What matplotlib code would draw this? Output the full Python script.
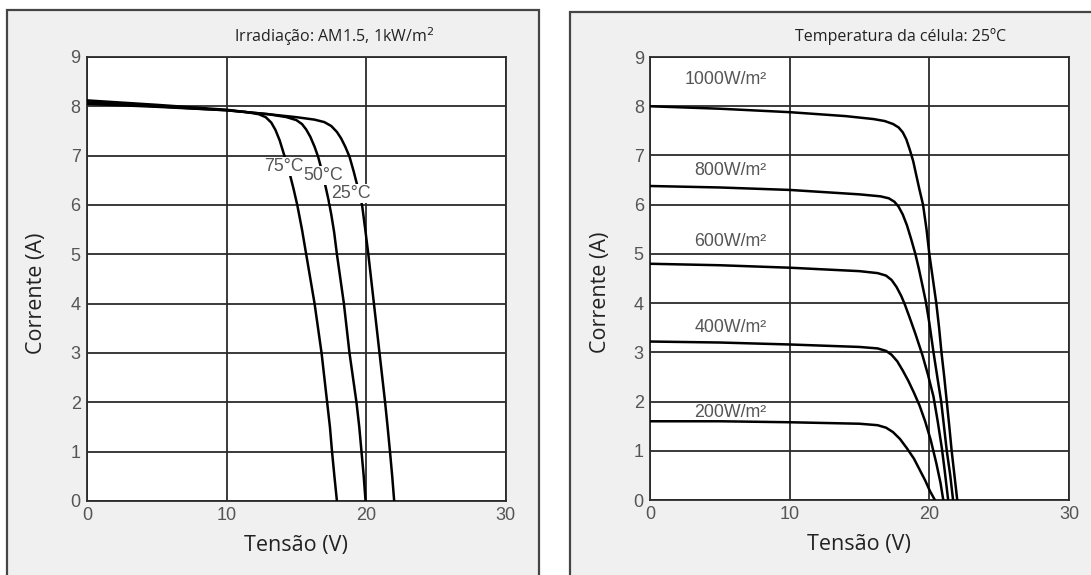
import matplotlib
matplotlib.use("Agg")
import matplotlib.pyplot as plt
from matplotlib.patches import Rectangle

# ---- Left panel: I-V curves at different cell temperatures (AM1.5, 1 kW/m²) ----
temp_labels = ["75°C", "50°C", "25°C"]
v_75 = [0, 5, 10, 11.5, 12.3, 12.8, 13.2, 13.5, 13.8, 14.05, 14.3, 14.55, 14.8, 15.06,
        15.4, 15.7, 16.0, 16.3, 16.55, 16.8, 17.0, 17.2, 17.4, 17.55, 17.72, 17.9]
i_75 = [8.12, 8.03, 7.93, 7.88, 7.84, 7.78, 7.67, 7.52, 7.31, 7.08, 6.85, 6.60, 6.32, 6.00,
        5.50, 5.00, 4.50, 4.00, 3.50, 3.00, 2.50, 2.00, 1.50, 1.00, 0.50, 0.00]
v_50 = [0, 5, 10, 13, 14.3, 15.0, 15.4, 15.7, 16.0, 16.3, 16.55, 16.8, 17.05, 17.3, 17.5,
        17.7, 17.9, 18.15, 18.4, 18.6, 18.8, 19.05, 19.3, 19.5, 19.66, 19.82, 19.95]
i_50 = [8.08, 8.00, 7.92, 7.84, 7.78, 7.72, 7.64, 7.53, 7.38, 7.18, 6.98, 6.72, 6.42, 6.10, 5.80,
        5.45, 5.00, 4.50, 4.00, 3.50, 3.00, 2.50, 2.00, 1.50, 1.00, 0.50, 0.00]
v_25 = [0, 5, 10, 13, 15, 16.3, 17.0, 17.5, 17.9, 18.2, 18.5, 18.8, 19.1, 19.4, 19.7,
        19.93, 20.15, 20.35, 20.55, 20.75, 20.95, 21.15, 21.35, 21.53, 21.7, 21.86, 22.0]
i_25 = [8.05, 7.99, 7.92, 7.84, 7.78, 7.73, 7.68, 7.60, 7.48, 7.35, 7.18, 6.98, 6.68, 6.35, 6.00,
        5.50, 5.00, 4.50, 4.00, 3.50, 3.00, 2.50, 2.00, 1.50, 1.00, 0.50, 0.00]
temp_label_pos = [(14.1, 6.78), (16.9, 6.60), (18.9, 6.24)]

# ---- Right panel: I-V curves at different irradiance levels (cell at 25°C) ----
irr_labels = ["1000W/m²", "800W/m²", "600W/m²", "400W/m²", "200W/m²"]
v_1000 = [0, 5, 10, 14, 16, 16.8, 17.4, 17.8, 18.1, 18.35, 18.6, 18.85, 19.05, 19.3, 19.55,
          19.8, 20.0, 20.25, 20.5, 20.7, 20.87, 21.07, 21.25, 21.43, 21.6, 21.8, 22.0]
i_1000 = [8.00, 7.95, 7.88, 7.80, 7.74, 7.70, 7.64, 7.57, 7.47, 7.33, 7.12, 6.88, 6.62, 6.30, 6.00,
          5.50, 5.00, 4.50, 4.00, 3.50, 3.00, 2.50, 2.00, 1.50, 1.00, 0.50, 0.00]
v_800 = [0, 5, 10, 15, 16.5, 17.1, 17.5, 17.8, 18.1, 18.4, 18.7, 19.0, 19.25, 19.5, 19.75,
         20.0, 20.3, 20.6, 20.85, 21.05, 21.25, 21.5, 21.7]
i_800 = [6.38, 6.35, 6.30, 6.21, 6.17, 6.13, 6.06, 5.96, 5.80, 5.58, 5.30, 5.00, 4.70, 4.37, 4.03,
         3.60, 3.00, 2.45, 2.00, 1.50, 1.00, 0.50, 0.00]
v_600 = [0, 5, 10, 15, 16.3, 16.9, 17.3, 17.65, 18.0, 18.25, 18.6, 19.0, 19.5, 19.9, 20.3,
         20.6, 20.9, 21.1, 21.35]
i_600 = [4.80, 4.77, 4.72, 4.65, 4.61, 4.56, 4.47, 4.33, 4.14, 3.97, 3.70, 3.38, 2.95, 2.55, 2.10,
         1.60, 1.05, 0.60, 0.00]
v_400 = [0, 5, 10, 15, 16.3, 16.9, 17.3, 17.7, 18.1, 18.5, 18.9, 19.3, 19.7, 20.1, 20.5, 20.8, 21.0]
i_400 = [3.22, 3.20, 3.16, 3.11, 3.08, 3.03, 2.95, 2.82, 2.63, 2.42, 2.18, 1.92, 1.60, 1.22, 0.75,
         0.35, 0.00]
v_200 = [0, 5, 10, 15, 16.3, 16.9, 17.4, 17.9, 18.4, 18.9, 19.3, 19.7, 20.05, 20.4]
i_200 = [1.60, 1.60, 1.58, 1.55, 1.52, 1.47, 1.38, 1.24, 1.05, 0.84, 0.62, 0.40, 0.18, 0.00]
irr_label_pos = [(8.36, 8.54), (8.36, 6.69), (8.36, 5.26), (8.36, 3.50), (8.36, 1.78)]

x_ticks = [0, 10, 20, 30]
y_ticks = list(range(0, 10))

PANEL_BG = "#f0f0f0"
FRAME = "#454545"
GRID = "#2b2b2b"
TICK_COLOR = "#555555"
LABEL_FONT = ["Open Sans", "DejaVu Sans"]
TICK_FONT = ["Liberation Sans", "DejaVu Sans"]

plt.rcParams["font.family"] = TICK_FONT

fig = plt.figure(figsize=(10.91, 5.75), dpi=100, facecolor="white")

# Framed light-grey panels behind each chart
fig.add_artist(Rectangle((0.0064, -0.05), 0.4876, 1.0326, transform=fig.transFigure,
                         facecolor=PANEL_BG, edgecolor=FRAME, lw=1.6, zorder=0))
fig.add_artist(Rectangle((0.5225, -0.05), 0.55, 1.029, transform=fig.transFigure,
                         facecolor=PANEL_BG, edgecolor=FRAME, lw=1.6, zorder=0))

ax1 = fig.add_axes([0.0797, 0.1287, 0.384, 0.7722])
ax2 = fig.add_axes([0.5958, 0.1304, 0.384, 0.7704])

for ax in (ax1, ax2):
    ax.set_facecolor("white")
    ax.set_xlim(0, 30)
    ax.set_ylim(0, 9)
    ax.set_xticks(x_ticks)
    ax.set_yticks(y_ticks)
    ax.grid(True, color=GRID, lw=1.3, zorder=1)
    ax.set_axisbelow(True)
    for s in ax.spines.values():
        s.set_color(GRID)
        s.set_linewidth(1.3)
    ax.tick_params(length=0, pad=4.5, labelsize=13, labelcolor=TICK_COLOR)
    ax.set_xlabel("Tensão (V)", fontsize=15.5, family=LABEL_FONT, color="#222222")
    ax.set_ylabel("Corrente (A)", fontsize=15.5, family=LABEL_FONT, color="#222222")
    ax.xaxis.label.set_va("center")
    ax.yaxis.label.set_va("center")

ax1.xaxis.set_label_coords(0.5, -0.101)
ax1.yaxis.set_label_coords(-0.1205, 0.468)
ax2.xaxis.set_label_coords(0.499, -0.101)
ax2.yaxis.set_label_coords(-0.118, 0.468)

# Temperature curves
for v, i in [(v_75, i_75), (v_50, i_50), (v_25, i_25)]:
    ax1.plot(v, i, color="black", lw=1.8, zorder=3, solid_joinstyle="round")
for text, (x, y) in zip(temp_labels, temp_label_pos):
    ax1.text(x, y, text, ha="center", va="center", fontsize=12.8, color=TICK_COLOR,
             zorder=4,
             bbox=dict(boxstyle="square,pad=0.05", facecolor="white", edgecolor="none"))

# Irradiance curves
for v, i in [(v_1000, i_1000), (v_800, i_800), (v_600, i_600), (v_400, i_400), (v_200, i_200)]:
    ax2.plot(v, i, color="black", lw=1.8, zorder=3, solid_joinstyle="round")
for text, (x, y) in zip(irr_labels, irr_label_pos):
    ax2.text(x, y, text, ha="right", va="center", fontsize=12.8, color=TICK_COLOR, zorder=4)

# Panel headings
fig.text(0.306, 0.9357, "Irradiação: AM1.5, 1kW/m$^2$", ha="center", va="center",
         fontsize=11.5, family=LABEL_FONT, color="#222222")
fig.text(0.8254, 0.937, "Temperatura da célula: 25ºC", ha="center", va="center",
         fontsize=11.5, family=LABEL_FONT, color="#222222")

fig.savefig("out.png", dpi=100, facecolor="white")
